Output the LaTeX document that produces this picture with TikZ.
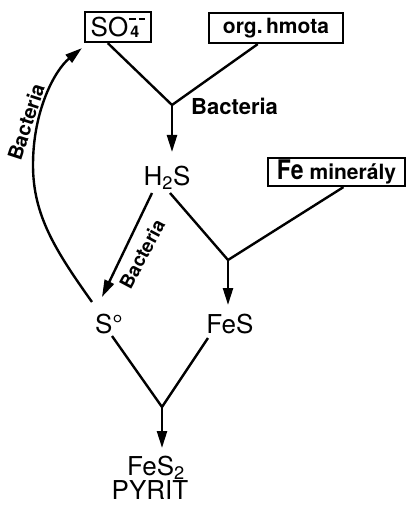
\documentclass[tikz,border=0pt]{standalone}
\usepackage{fontspec}
\setmainfont{TeX Gyre Heros}
\usetikzlibrary{arrows.meta,calc}
\begin{document}
\begin{tikzpicture}[x=1pt,y=-1pt,line width=2.4pt,
  >={Triangle[length=17pt,width=10pt]},
  box/.style={draw,line width=2.2pt,inner sep=0pt},
  chem/.style={inner sep=0pt,anchor=base,font=\fontsize{26}{26}\selectfont},
  bact/.style={inner sep=0pt,font=\bfseries\fontsize{20}{20}\selectfont}]
\useasboundingbox (0,0) rectangle (406,505);
% boxes
\node[box,minimum width=66pt,minimum height=30pt] (so4) at (118,27)
  {\fontsize{26}{26}\selectfont SO\kern1pt\smash{\rlap{\kern1pt\raisebox{-1pt}{\bfseries\fontsize{16}{16}\selectfont 4}}\raisebox{16pt}{\rule{6.5pt}{2pt}\kern3pt\rule{6.5pt}{2pt}}}};
\node[box,minimum width=134pt,minimum height=30pt] (org) at (276,28)
  {\bfseries\fontsize{21}{21}\selectfont org.\,hmota};
\node[box,minimum width=137pt,minimum height=28pt] (fe) at (336.5,172)
  {\fontsize{27}{27}\selectfont\scalebox{0.85}[1]{\bfseries Fe}\kern6pt\bfseries\fontsize{21}{21}\selectfont minerály};
% chemical labels
\node[chem] (h2s) at (167,185) {H\textsubscript{2}S};
\node[chem] (s0) at (109,333) {S°};
\node[chem] (fes) at (230,333) {FeS};
\node[chem] (fes2) at (156,475) {FeS\textsubscript{2}};
\node[chem] (pyrit) at (150,499) {PYRIT};
% junctions
\coordinate (j1) at (172,105);
\coordinate (j2) at (228,260);
\coordinate (j3) at (162,407);
% top fork
\draw ($(so4.south west)!0.35!(so4.south east)$) -- (j1);
\draw ($(org.south west)!0.366!(org.south east)$) -- (j1);
\draw[->] (j1) -- ($(h2s.base)+(5,-33)$);
\node[bact,anchor=base west,font=\bfseries\fontsize{22}{22}\selectfont] (b1) at (190,115) {Bacteria};
% middle fork
\draw ($(h2s.base)+(3,8)$) -- (j2);
\draw ($(fe.south west)!0.55!(fe.south east)$) -- (j2);
\draw[->] (j2) -- ($(fes.base)+(-2,-28)$);
% H2S -> S
\draw[->] ($(h2s.base)+(-15,8)$) -- ($(s0.base)+(-7,-36)$);
\node[bact,rotate=62,font=\bfseries\fontsize{19}{19}\selectfont] (b2) at (142,254) {Bacteria};
% bottom fork
\draw ($(s0.base)+(3,3)$) -- (j3);
\draw ($(fes.base)+(-22,5)$) -- (j3);
\draw[->] (j3) -- ($(fes2.base)+(6,-27)$);
% arc S -> SO4
\draw[->] ($(s0.base)+(-17,-31)$) .. controls (55,250) and (33,215) .. (33,165)
  .. controls (33,110) and (55,70) .. ($(so4.south west)+(-2,5)$);
\node[bact,rotate=72] (b3) at (26,122) {Bacteria};
\end{tikzpicture}
\end{document}
